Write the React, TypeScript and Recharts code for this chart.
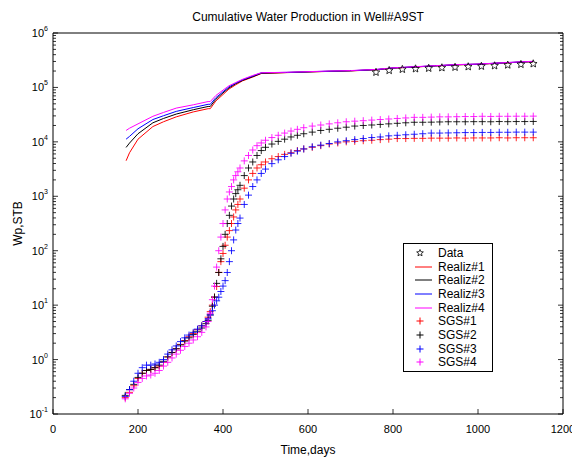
import React from "react";
import { ComposedChart, Line, Scatter, XAxis, YAxis, Legend } from "recharts";

const FONT = "'Liberation Sans', Arial, Helvetica, sans-serif";

// axis ticks
const xTicks = [0, 200, 400, 600, 800, 1000, 1200];
const yDecades = [-1, 0, 1, 2, 3, 4, 5, 6];
const yMajor = yDecades.map((e) => Math.pow(10, e));
const yMinor = yDecades
  .slice(0, -1)
  .flatMap((e) => [2, 3, 4, 5, 6, 7, 8, 9].map((k) => k * Math.pow(10, e)));
const yTicks = [...yMajor, ...yMinor].sort((a, b) => a - b);

// observed data (stars)
const dataDays = [760, 791, 822, 853, 884, 915, 946, 977, 1008, 1039, 1070, 1101, 1130];
const dataWp = [190000, 205000, 215000, 220000, 225000, 230000, 235000, 240000, 245000, 250000, 258000, 265000, 272000];

// realizations (lines)
const realizDays = [172, 180, 200, 235, 260, 290, 330, 365, 370, 383, 400, 414, 430, 446, 470, 490, 550, 600, 650, 700, 760, 800, 850, 900, 950, 1000, 1050, 1100, 1130];
const realiz1 = [4500, 6300, 11200, 19100, 23400, 28800, 35500, 40700, 40700, 56200, 74100, 93300, 112000, 132000, 155000, 180000, 187000, 192000, 197000, 201000, 211000, 226000, 237000, 248000, 260000, 266000, 279000, 291000, 297000];
const realiz2 = [7900, 9500, 14100, 22400, 26900, 32400, 38900, 44700, 44700, 60300, 79400, 97700, 117000, 135000, 158000, 182000, 188000, 193000, 198000, 202000, 212000, 227000, 238000, 249000, 261000, 267000, 280000, 292000, 298000];
const realiz3 = [11200, 12600, 17400, 25700, 30200, 36300, 42700, 49000, 49000, 64600, 83200, 102000, 120000, 138000, 162000, 186000, 189000, 194000, 199000, 203000, 213000, 228000, 239000, 250000, 262000, 268000, 281000, 294000, 300000];
const realiz4 = [16200, 17800, 21400, 29500, 34700, 41700, 47900, 55000, 55000, 70800, 89100, 107000, 123000, 141000, 166000, 186000, 190000, 195000, 200000, 204000, 214000, 229000, 240000, 251000, 263000, 269000, 282000, 295000, 302000];

// SGS simulations (plus markers)
const sgsDays = [170, 180, 190, 200, 210, 220, 230, 240, 250, 260, 270, 280, 290, 300, 310, 320, 330, 340, 350, 360, 365, 370, 375, 380, 385, 390, 395, 400, 405, 410, 415, 420, 425, 430, 435, 440, 450, 460, 470, 480, 490, 500, 515, 530, 545, 560, 575, 590, 610, 630, 650, 670, 690, 710, 730, 750, 770, 790, 810, 830, 850, 870, 890, 910, 930, 950, 970, 990, 1010, 1030, 1050, 1070, 1090, 1110, 1130];
const sgs1 = [0.2, 0.25, 0.33, 0.45, 0.56, 0.63, 0.66, 0.71, 0.76, 0.89, 1.12, 1.35, 1.58, 1.9, 2.24, 2.63, 3.02, 3.55, 4.17, 5.0, 6.0, 7.6, 10, 14, 22, 40, 63, 89, 126, 178, 234, 316, 417, 562, 708, 891, 1410, 2000, 2630, 3310, 3800, 4270, 4900, 5370, 5890, 6310, 6920, 7410, 7940, 8510, 9120, 9550, 10000, 10200, 10500, 10700, 11000, 11200, 11500, 11500, 11600, 11600, 11700, 11700, 11700, 11800, 11700, 11800, 11800, 11800, 11900, 11800, 11900, 11900, 11900];
const sgs2 = [0.22, 0.28, 0.35, 0.47, 0.56, 0.63, 0.66, 0.71, 0.79, 0.93, 1.12, 1.35, 1.58, 1.86, 2.19, 2.51, 2.88, 3.31, 3.8, 4.57, 5.25, 6.61, 9.55, 14.1, 25.1, 39.8, 71, 120, 200, 316, 447, 661, 891, 1120, 1320, 1590, 2400, 3310, 4270, 5620, 6920, 7940, 9120, 10200, 11200, 12300, 13200, 14100, 15100, 16200, 17000, 17800, 18600, 19500, 20000, 20400, 20900, 21400, 21900, 22400, 22900, 22900, 23000, 23200, 23400, 23400, 23400, 23500, 23500, 23400, 23600, 23500, 23600, 23600, 23700];
const sgs3 = [0.21, 0.28, 0.4, 0.56, 0.71, 0.79, 0.79, 0.83, 0.89, 1.0, 1.26, 1.51, 1.78, 2.14, 2.51, 2.82, 3.16, 3.63, 4.17, 5.0, 5.6, 6.6, 7.9, 10, 12, 14, 17.8, 22.4, 28.2, 39.8, 63, 100, 158, 240, 316, 398, 708, 1050, 1510, 2000, 2630, 3160, 3980, 4680, 5370, 6170, 6760, 7410, 8130, 8710, 9330, 10000, 10500, 11000, 11500, 12000, 12300, 12900, 13200, 13500, 13800, 14100, 14500, 14500, 14600, 14700, 14800, 14800, 14900, 14900, 15000, 15000, 15100, 15100, 15100];
const sgs4 = [0.19, 0.24, 0.3, 0.38, 0.45, 0.5, 0.52, 0.56, 0.63, 0.76, 0.89, 1.07, 1.26, 1.48, 1.74, 2.0, 2.29, 2.63, 3.16, 3.98, 5.0, 7.1, 12.6, 22.4, 50, 100, 178, 316, 562, 891, 1200, 1510, 2000, 2400, 2820, 3310, 4470, 5620, 7080, 8510, 9550, 10700, 12000, 13200, 14500, 15800, 17000, 18200, 19500, 20400, 21400, 22400, 23400, 24000, 24500, 25100, 25700, 26300, 26900, 27500, 28200, 28200, 28500, 28800, 28800, 29000, 29200, 29200, 29500, 29300, 29500, 29500, 29600, 29600, 29700];

const RED = "#ff0000";
const BLACK = "#000000";
const BLUE = "#0000ff";
const MAGENTA = "#ff00ff";

const toPoints = (days: number[], vals: number[]) => days.map((d, i) => ({ x: d, y: vals[i] }));

const realizSeries = [
  { name: "Realiz#1", color: RED, data: toPoints(realizDays, realiz1) },
  { name: "Realiz#2", color: BLACK, data: toPoints(realizDays, realiz2) },
  { name: "Realiz#3", color: BLUE, data: toPoints(realizDays, realiz3) },
  { name: "Realiz#4", color: MAGENTA, data: toPoints(realizDays, realiz4) },
];
const sgsSeries = [
  { name: "SGS#1", color: RED, data: toPoints(sgsDays, sgs1) },
  { name: "SGS#2", color: BLACK, data: toPoints(sgsDays, sgs2) },
  { name: "SGS#3", color: BLUE, data: toPoints(sgsDays, sgs3) },
  { name: "SGS#4", color: MAGENTA, data: toPoints(sgsDays, sgs4) },
];

const starPath = (cx: number, cy: number, r: number) => {
  let d = "";
  for (let i = 0; i < 10; i++) {
    const rr = i % 2 === 0 ? r : r * 0.45;
    const a = -Math.PI / 2 + (i * Math.PI) / 5;
    d += (i === 0 ? "M" : "L") + (cx + rr * Math.cos(a)).toFixed(2) + "," + (cy + rr * Math.sin(a)).toFixed(2);
  }
  return d + "Z";
};

const StarShape = (props: any) => {
  const { cx, cy } = props;
  if (cx == null || cy == null) return <g />;
  return <path d={starPath(cx, cy, 4)} fill="none" stroke="#000" strokeWidth={0.8} />;
};

const plusShape = (color: string) => (props: any) => {
  const { cx, cy } = props;
  if (cx == null || cy == null) return <g />;
  return (
    <path
      d={`M${cx - 3.5},${cy}h7M${cx},${cy - 3.5}v7`}
      stroke={color}
      strokeWidth={1}
      strokeOpacity={0.85}
      fill="none"
    />
  );
};

const LeftTick = (props: any) => {
  const { x, y, payload } = props;
  const e = yMajor.indexOf(payload.value);
  const len = e >= 0 ? 5 : 3;
  return (
    <g>
      <line x1={x} x2={x + len} y1={y} y2={y} stroke="#000" strokeWidth={0.8} />
      {e >= 0 && (
        <text x={x - 5} y={y + 4} textAnchor="end" fontSize={11} fontFamily={FONT} fill="#000">
          10
          <tspan dy={-6} fontSize={7}>
            {yDecades[e]}
          </tspan>
        </text>
      )}
    </g>
  );
};

const RightTick = (props: any) => {
  const { x, y, payload } = props;
  const len = yMajor.indexOf(payload.value) >= 0 ? 5 : 3;
  return <line x1={x} x2={x - len} y1={y} y2={y} stroke="#000" strokeWidth={0.8} />;
};

const BottomTick = (props: any) => {
  const { x, y, payload } = props;
  return (
    <g>
      <line x1={x} x2={x} y1={y} y2={y - 5} stroke="#000" strokeWidth={0.8} />
      <text x={x} y={y + 19} textAnchor="middle" fontSize={11} fontFamily={FONT} fill="#000">
        {payload.value}
      </text>
    </g>
  );
};

const TopTick = (props: any) => {
  const { x, y } = props;
  return <line x1={x} x2={x} y1={y} y2={y + 5} stroke="#000" strokeWidth={0.8} />;
};

const legendItems = [
  { label: "Data", kind: "star", color: BLACK },
  ...realizSeries.map((s) => ({ label: s.name, kind: "line", color: s.color })),
  ...sgsSeries.map((s) => ({ label: s.name, kind: "plus", color: s.color })),
];

const LegendBox = () => (
  <div
    style={{
      border: "1px solid #000",
      background: "#fff",
      padding: "2px 0 2px 0",
      fontFamily: FONT,
      fontSize: 12,
      color: "#000",
    }}
  >
    {legendItems.map((item) => (
      <div key={item.label} style={{ display: "flex", alignItems: "center", height: 13.7 }}>
        <svg width={34} height={12} style={{ flex: "none" }}>
          {item.kind === "star" && <path d={starPath(16, 6, 3.5)} fill="none" stroke="#000" strokeWidth={0.8} />}
          {item.kind === "line" && <line x1={11} x2={28} y1={6} y2={6} stroke={item.color} strokeWidth={1} />}
          {item.kind === "plus" && <path d="M12.5,6h7M16,2.5v7" stroke={item.color} strokeWidth={1} />}
        </svg>
        <span style={{ lineHeight: "12px" }}>{item.label}</span>
      </div>
    ))}
  </div>
);

export default function App() {
  return (
    <div style={{ position: "relative", width: 572, height: 464, background: "#fff" }}>
      <div
        style={{
          position: "absolute",
          left: 45,
          width: 510,
          top: 2,
          textAlign: "center",
          fontFamily: FONT,
          fontSize: 12,
          color: "#000",
          zIndex: 2,
        }}
      >
        Cumulative Water Production in Well#A9ST
      </div>
      <ComposedChart width={572} height={464} margin={{ top: 24, right: 7, bottom: 18, left: 5 }}>
        <XAxis
          dataKey="x"
          type="number"
          domain={[0, 1200]}
          ticks={xTicks}
          interval={0}
          allowDataOverflow
          height={40}
          tickSize={0}
          tickMargin={0}
          tickLine={false}
          axisLine={{ stroke: "#000" }}
          tick={<BottomTick />}
          label={{ value: "Time,days", position: "insideBottom", offset: 0, fontSize: 12, fontFamily: FONT, fill: "#000" }}
        />
        <XAxis
          xAxisId="top"
          orientation="top"
          type="number"
          domain={[0, 1200]}
          ticks={xTicks}
          interval={0}
          allowDataOverflow
          height={1}
          tickSize={0}
          tickMargin={0}
          tickLine={false}
          axisLine={{ stroke: "#000" }}
          tick={<TopTick />}
        />
        <YAxis
          dataKey="y"
          type="number"
          scale="log"
          domain={[0.1, 1000000]}
          ticks={yTicks}
          interval={0}
          allowDataOverflow
          width={40}
          tickSize={0}
          tickMargin={0}
          tickLine={false}
          axisLine={{ stroke: "#000" }}
          tick={<LeftTick />}
          label={{
            value: "Wp,STB",
            angle: -90,
            position: "insideLeft",
            offset: 5,
            fontSize: 12,
            fontFamily: FONT,
            fill: "#000",
            style: { textAnchor: "middle" },
          }}
        />
        <YAxis
          yAxisId="right"
          orientation="right"
          type="number"
          scale="log"
          domain={[0.1, 1000000]}
          ticks={yTicks}
          interval={0}
          allowDataOverflow
          width={10}
          tickSize={0}
          tickMargin={0}
          tickLine={false}
          axisLine={{ stroke: "#000" }}
          tick={<RightTick />}
        />
        {realizSeries.map((s) => (
          <Line
            key={s.name}
            name={s.name}
            data={s.data}
            dataKey="y"
            type="linear"
            stroke={s.color}
            strokeWidth={1}
            dot={false}
            activeDot={false}
            isAnimationActive={false}
          />
        ))}
        <Scatter name="Data" data={toPoints(dataDays, dataWp)} shape={StarShape} isAnimationActive={false} />
        {sgsSeries.map((s) => (
          <Scatter key={s.name} name={s.name} data={s.data} shape={plusShape(s.color)} isAnimationActive={false} />
        ))}
        <Legend
          layout="vertical"
          align="center"
          verticalAlign="middle"
          content={() => <LegendBox />}
          wrapperStyle={{ left: 395, top: 235, width: 90, right: "auto", bottom: "auto" }}
        />
      </ComposedChart>
    </div>
  );
}
